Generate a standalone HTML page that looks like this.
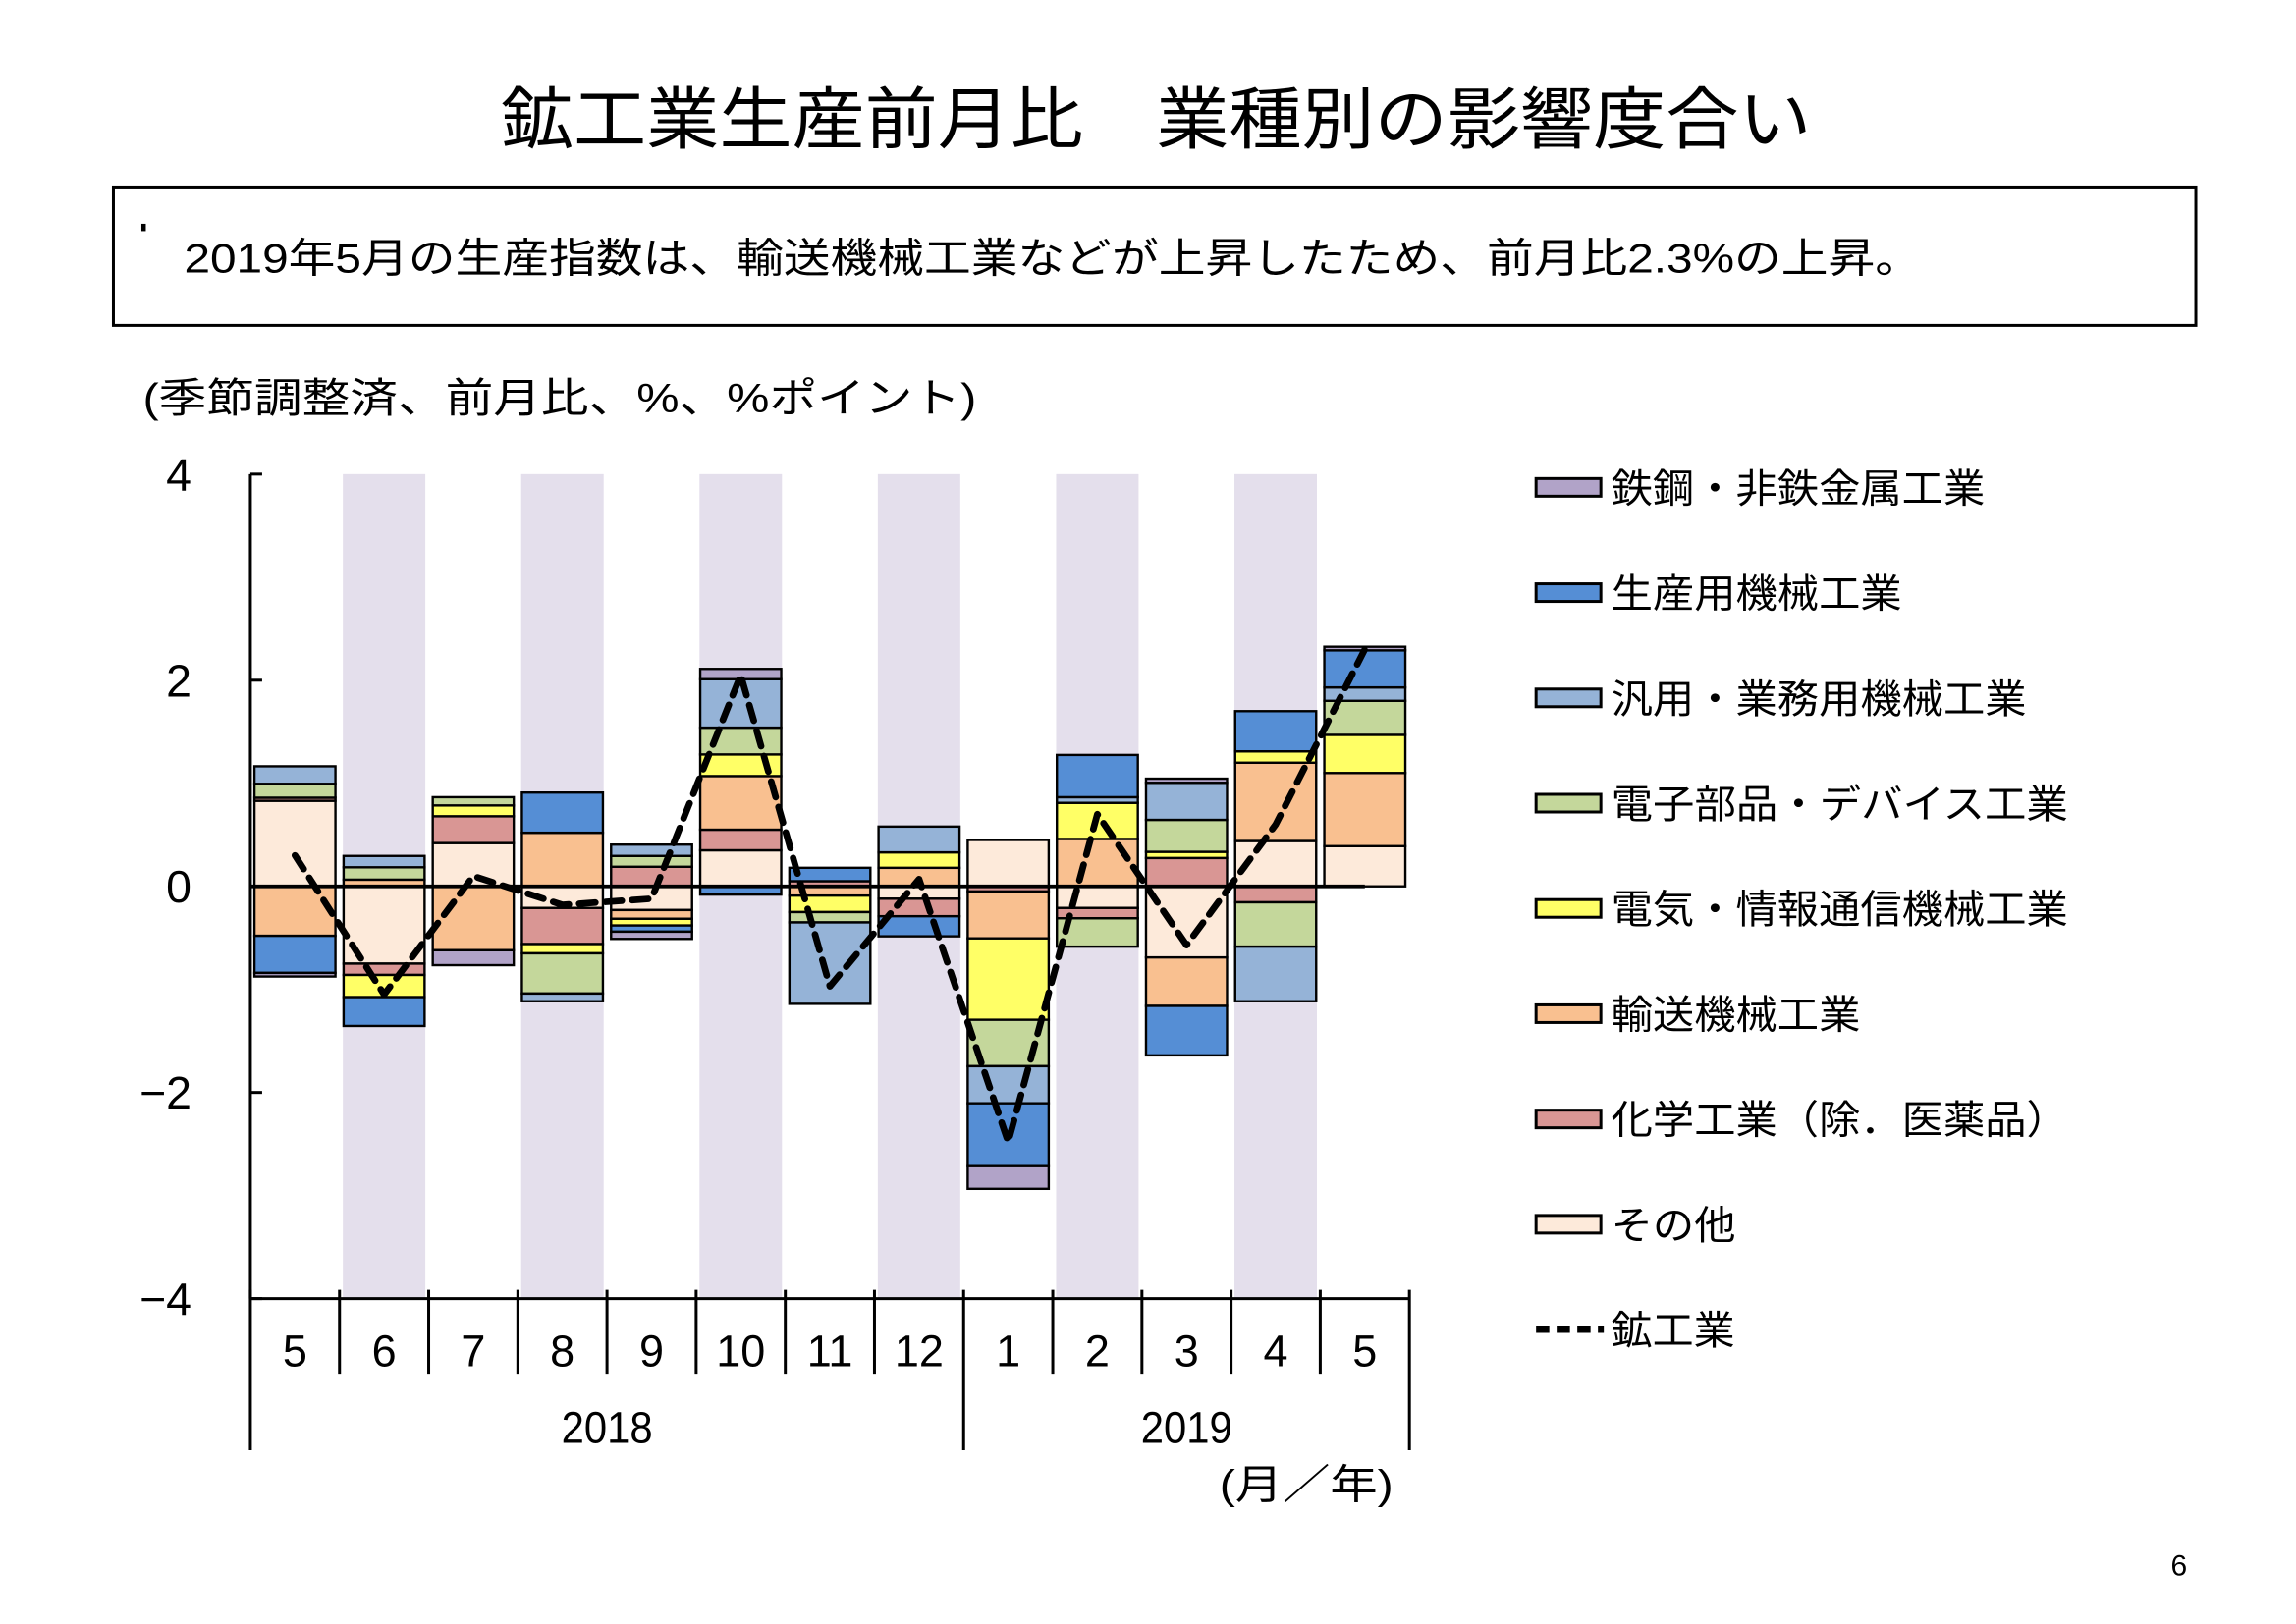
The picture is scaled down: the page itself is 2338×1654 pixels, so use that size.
<!DOCTYPE html>
<html><head><meta charset="utf-8">
<style>
html,body{margin:0;padding:0;background:#fff;}
svg{display:block;}
text{font-family:"Liberation Sans","Noto Sans CJK JP",sans-serif;fill:#000;}
</style></head>
<body>
<svg id="chart" width="2338" height="1654" viewBox="0 0 1559 1103" preserveAspectRatio="none" xmlns="http://www.w3.org/2000/svg">
<text x="340" y="97" font-size="46" textLength="890" lengthAdjust="spacingAndGlyphs">鉱工業生産前月比　業種別の影響度合い</text>
<rect x="77" y="127" width="1414" height="94" fill="none" stroke="#000" stroke-width="2"/>
<rect x="96" y="152" width="3" height="5" fill="#000"/>
<text x="125" y="185" font-size="28" textLength="1180" lengthAdjust="spacingAndGlyphs">2019年5月の生産指数は、輸送機械工業などが上昇したため、前月比2.3%の上昇。</text>
<text x="97" y="280" font-size="28" textLength="566" lengthAdjust="spacingAndGlyphs">(季節調整済、前月比、%、%ポイント)</text>
<g id="plot"></g>
<text x="1474" y="1070" font-size="20">6</text>
</svg>
<script>
const months = ["5","6","7","8","9","10","11","12","1","2","3","4","5"];
const years = ["2018","2019"];
const seriesNames = ["鉄鋼・非鉄金属工業","生産用機械工業","汎用・業務用機械工業","電子部品・デバイス工業","電気・情報通信機械工業","輸送機械工業","化学工業（除．医薬品）","その他"];
const steel      = [-0.035,0,-0.145,0,-0.07,0.10,0,0,-0.22,0,0.04,0,0.035];
const prodMach   = [-0.36,-0.28,0,0.39,-0.06,-0.08,0.13,-0.195,-0.61,0.41,-0.48,0.39,0.36];
const generalMach= [0.17,0.11,0,-0.075,0.11,0.47,-0.79,0.25,-0.36,0.055,0.36,-0.53,0.13];
const electronic = [0.135,0.12,0.08,-0.39,0.105,0.26,-0.10,0,-0.45,-0.275,0.31,-0.43,0.33];
const electrical = [0,-0.215,0.105,-0.09,-0.065,0.21,-0.16,0.15,-0.79,0.35,0.06,0.11,0.37];
const transport  = [-0.48,0.065,-0.62,0.52,-0.085,0.52,-0.09,0.18,-0.455,0.46,-0.47,0.76,0.71];
const chemical   = [0.03,-0.11,0.26,-0.35,0.19,0.20,0.05,-0.17,-0.05,-0.10,0.275,-0.155,0];
const other      = [0.83,-0.75,0.42,-0.21,-0.23,0.35,0,-0.12,0.45,-0.21,-0.69,0.44,0.39];
const total      = [0.3,-1.05,0.1,-0.18,-0.12,2.05,-0.97,0.07,-2.48,0.7,-0.57,0.6,2.3];
const yTicks = [4,2,0,-2,-4];
const yTickLabels = ["4","2","0","−2","−4"];

const NS="http://www.w3.org/2000/svg";
const g=document.getElementById('plot');
const X0=170, X1=957, YT=322, YB=882, VMAX=4, VMIN=-4;
const n=months.length, slot=(X1-X0)/n;
const yS=v=>YT+(VMAX-v)/(VMAX-VMIN)*(YB-YT);
const xC=i=>X0+slot*(i+0.5);
function mk(tag,attrs){const e=document.createElementNS(NS,tag);for(const k in attrs)e.setAttribute(k,attrs[k]);g.appendChild(e);return e;}

// shaded bands
for(let i=1;i<n;i+=2){
  const e=mk('rect',{x:xC(i)-28,y:YT,width:56,height:YB-YT,fill:'#E4DFEC'});
  
  
}
// stacked bars: stacking order from zero outward
const stackOrder=[other,chemical,transport,electrical,electronic,generalMach,prodMach,steel];
const stackColors=['#FDEADA','#D99694','#F9C090','#FFFF66','#C4D79B','#95B3D7','#558ED5','#B1A3C8'];
const stackKeys=['other','chemical','transport','electrical','electronic','general','prod','steel'];
for(let i=0;i<n;i++){
  let pos=0,neg=0;
  for(let s=0;s<stackOrder.length;s++){
    const v=stackOrder[s][i]; if(!v) continue;
    let a,b;
    if(v>0){a=pos;b=pos+v;pos=b;}else{a=neg;b=neg+v;neg=b;}
    const y1=yS(Math.max(a,b)), y2=yS(Math.min(a,b));
    const e=mk('rect',{x:xC(i)-27.5,y:y1,width:55,height:y2-y1,fill:stackColors[s],stroke:'#000','stroke-width':1.6});
    
    
  }
}
// zero line
let z=mk('line',{x1:X0,x2:xC(n-1),y1:yS(0),y2:yS(0),stroke:'#000','stroke-width':2.5});


// total line
const pts=total.map((v,i)=>xC(i)+','+yS(v)).join(' ');
let tl=mk('polyline',{points:pts,fill:'none',stroke:'#000','stroke-width':4.5,'stroke-dasharray':'11,7','stroke-linecap':'round','stroke-linejoin':'round'});


// y axis
let ya=mk('line',{x1:X0,x2:X0,y1:YT,y2:YB,stroke:'#000','stroke-width':2});


yTicks.forEach((t,k)=>{
  const tk=mk('line',{x1:X0,x2:X0+8,y1:yS(t),y2:yS(t),stroke:'#000','stroke-width':2});
  
  
  const tx=mk('text',{x:130,y:yS(t)+11,'font-size':31,'text-anchor':'end'});
  tx.textContent=yTickLabels[k];
  
  
});
// x axis
let xa=mk('line',{x1:X0,x2:X1,y1:YB,y2:YB,stroke:'#000','stroke-width':2});


for(let i=0;i<=n;i++){
  const x=X0+slot*i;
  const big=(i===0||i===8||i===n);
  const d=mk('line',{x1:x,x2:x,y1:YB-6,y2:big?985:933,stroke:'#000','stroke-width':2});
  
  
}
months.forEach((m,i)=>{
  const t=mk('text',{x:xC(i),y:928,'font-size':30,'text-anchor':'middle'});
  t.textContent=m;
  
  
});
const yearCenters=[(X0+X0+slot*8)/2,(X0+slot*8+X1)/2];
years.forEach((y,k)=>{
  const t=mk('text',{x:yearCenters[k],y:980,'font-size':30,'text-anchor':'middle',textLength:62,lengthAdjust:'spacingAndGlyphs'});
  t.textContent=y;
  
  
});
let ul=mk('text',{x:828,y:1018,'font-size':28,textLength:118,lengthAdjust:'spacingAndGlyphs'});
ul.textContent='(月／年)';


// legend
const legColors=['#B1A3C8','#558ED5','#95B3D7','#C4D79B','#FFFF66','#F9C090','#D99694','#FDEADA'];
seriesNames.forEach((nm,k)=>{
  const y=331+71.5*k;
  const r=mk('rect',{x:1043,y:y-6,width:44,height:12,fill:legColors[k],stroke:'#000','stroke-width':2});
  
  
  const t=mk('text',{x:1094,y:y+10,'font-size':27,textLength:nm.length*28.2,lengthAdjust:'spacingAndGlyphs'});
  t.textContent=nm;
  
  
});
const ly=331+71.5*8;
let ll=mk('line',{x1:1043,x2:1089,y1:ly,y2:ly,stroke:'#000','stroke-width':4.5,'stroke-dasharray':'9,5'});


let lt=mk('text',{x:1094,y:ly+10,'font-size':27,textLength:84,lengthAdjust:'spacingAndGlyphs'});
lt.textContent='鉱工業';


</script>
</body></html>
